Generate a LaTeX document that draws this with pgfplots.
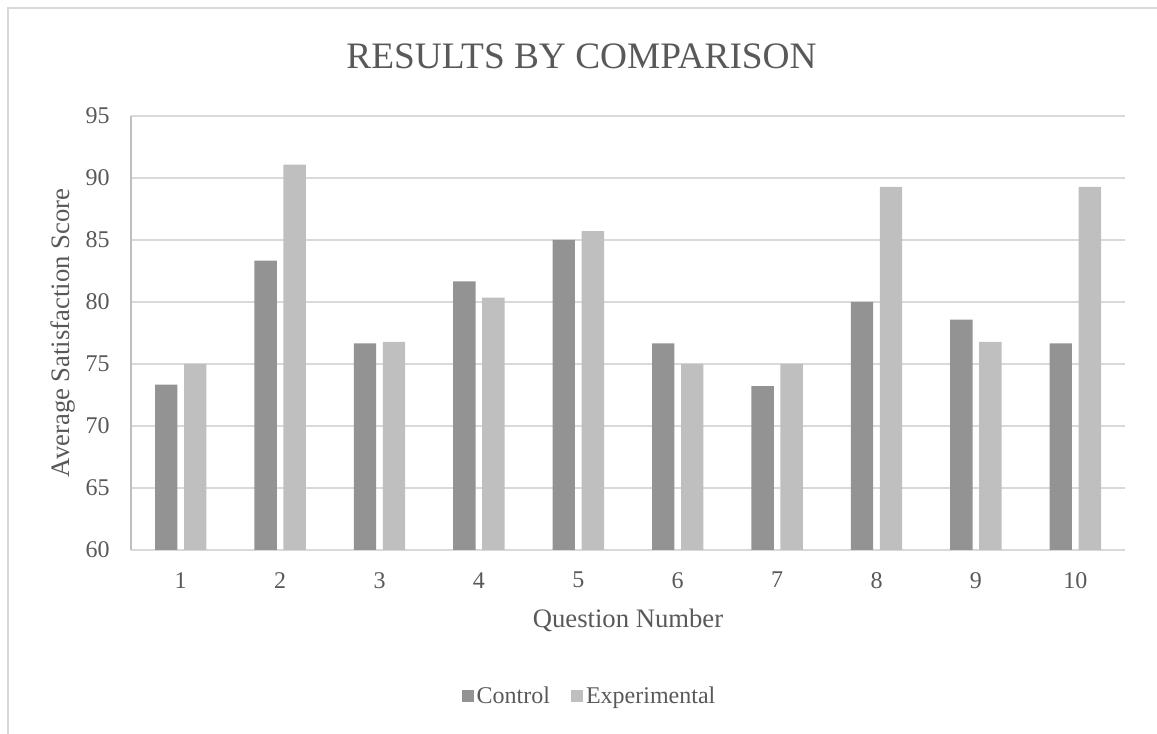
\documentclass[border=0pt]{standalone}
\usepackage{pgfplots}
\pgfplotsset{compat=1.18}
\usepackage{fontspec}
\setmainfont{Liberation Serif}
\definecolor{txt}{HTML}{595959}
\definecolor{gridc}{HTML}{D9D9D9}
\definecolor{axisc}{HTML}{BFBFBF}
\definecolor{ctrl}{HTML}{939393}
\definecolor{expe}{HTML}{BFBFBF}

\pgfplotstableread{
q  control  experimental
1  73.33    75.00
2  83.33    91.07
3  76.67    76.79
4  81.67    80.36
5  85.00    85.71
6  76.67    75.00
7  73.21    75.00
8  80.00    89.29
9  78.57    76.79
10 76.67    89.29
}\scores

\begin{document}
\begin{tikzpicture}[x=0.75pt,y=0.75pt]
\useasboundingbox (0,0) rectangle (1157,734);
% chart frame
\draw[gridc, line width=0.9pt] (8,-10) -- (8,726) -- (1170,726);
% chart title
\node[text=txt, font=\fontsize{28}{32}\selectfont] at (581.5,678) {RESULTS BY COMPARISON};
\begin{axis}[
  at={(98.25pt,138pt)}, anchor=south west,
  scale only axis, width=745.5pt, height=325.5pt,
  ybar,
  xmin=0.5, xmax=10.5, ymin=60, ymax=95,
  xtick={1,...,10}, ytick={60,65,...,95},
  ymajorgrids, grid style={gridc, line width=0.9pt},
  axis lines*=left,
  x axis line style={gridc, line width=0.9pt, -},
  y axis line style={axisc, line width=0.9pt, -},
  major tick length=0pt,
  /pgf/number format/assume math mode=true,
  ticklabel style={font=\fontsize{18}{20}\selectfont, text=txt},
  yticklabel style={inner sep=0pt, xshift=-15.75pt},
  xticklabel style={inner sep=0pt, anchor=north, yshift=-16.5pt},
  xlabel={Question Number},
  ylabel={Average Satisfaction Score},
  label style={font=\fontsize{20}{22}\selectfont, text=txt},
  xlabel style={at={(axis description cs:0.5,0)}, anchor=center, yshift=-52.5pt},
  ylabel style={at={(axis description cs:0,0.5)}, anchor=center, yshift=51pt},
  bar width=0.225,
  legend columns=2,
  legend style={at={(0.4618,-0.336)}, anchor=center, draw=none, fill=none,
    font=\fontsize{18}{20}\selectfont, text=txt, inner sep=0pt,
    /tikz/every even column/.append style={column sep=14pt}},
  legend image code/.code={\fill[#1] (0pt,-4.5pt) rectangle (9pt,4.5pt);},
]
\addplot[fill=ctrl, draw=none, bar shift=-0.146] table[x=q, y=control] {\scores};
\addlegendentry{Control}
\addplot[fill=expe, draw=none, bar shift=0.146] table[x=q, y=experimental] {\scores};
\addlegendentry{Experimental}
\end{axis}
\end{tikzpicture}
\end{document}
